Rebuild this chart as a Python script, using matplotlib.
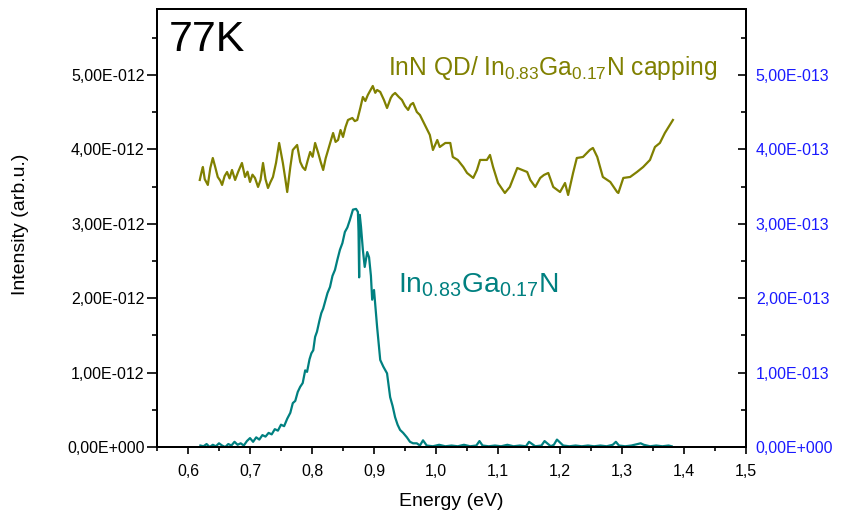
import numpy as np
import matplotlib.pyplot as plt
from matplotlib.ticker import FuncFormatter, MultipleLocator

plt.rcParams['font.family'] = ['Liberation Sans', 'DejaVu Sans']
plt.rcParams['mathtext.fontset'] = 'custom'
plt.rcParams['mathtext.rm'] = 'Liberation Sans'
plt.rcParams['mathtext.it'] = 'Liberation Sans'

# InN QD with In0.83Ga0.17N capping (right axis, units of 1e-13)
cap_energy = [0.619, 0.622, 0.624, 0.627, 0.632, 0.636, 0.640, 0.644, 0.648, 0.652,
              0.655, 0.659, 0.663, 0.667, 0.671, 0.676, 0.681, 0.687, 0.690, 0.692,
              0.696, 0.700, 0.704, 0.708, 0.713, 0.717, 0.721, 0.725, 0.729, 0.733,
              0.737, 0.742, 0.747, 0.753, 0.757, 0.760,
              0.765, 0.769, 0.776, 0.781, 0.785, 0.789, 0.793, 0.797, 0.801, 0.805,
              0.810, 0.814, 0.818, 0.822, 0.826,
              0.834, 0.838, 0.842, 0.846, 0.850, 0.854, 0.858, 0.865, 0.869, 0.873,
              0.878, 0.882, 0.886, 0.890, 0.894, 0.898, 0.902, 0.905,
              0.910, 0.916, 0.921, 0.927, 0.930, 0.934, 0.940, 0.945, 0.950, 0.955, 0.959, 0.963,
              0.969, 0.974, 0.982, 0.990, 0.995, 1.002, 1.006, 1.015, 1.023, 1.027,
              1.035, 1.044, 1.050, 1.060, 1.066, 1.071, 1.082, 1.087, 1.092, 1.100,
              1.111, 1.119, 1.131, 1.139, 1.147, 1.152, 1.160, 1.168, 1.174, 1.181,
              1.189, 1.200, 1.208, 1.213, 1.221, 1.227, 1.237, 1.248, 1.253, 1.260,
              1.269, 1.281, 1.292, 1.294, 1.302, 1.313, 1.324, 1.334, 1.345, 1.353,
              1.361, 1.369, 1.377, 1.382]
cap_intensity = [3.589, 3.700, 3.763, 3.600, 3.522, 3.750, 3.884, 3.760, 3.629, 3.580,
                 3.522, 3.640, 3.696, 3.610, 3.723, 3.589, 3.700, 3.817, 3.700, 3.629,
                 3.700, 3.562, 3.660, 3.616, 3.495, 3.590, 3.817, 3.600, 3.481, 3.560,
                 3.629, 3.820, 4.086, 3.817, 3.600, 3.427,
                 3.763, 3.992, 4.059, 3.831, 3.760, 3.723, 3.850, 3.965, 3.900, 4.086,
                 3.952, 3.830, 3.723, 3.880, 3.992,
                 4.220, 4.100, 4.126, 4.260, 4.167, 4.300, 4.395, 4.422, 4.380, 4.395,
                 4.560, 4.704, 4.650, 4.731, 4.790, 4.852, 4.760, 4.798,
                 4.772, 4.664, 4.556, 4.691, 4.730, 4.758, 4.704, 4.664, 4.583, 4.530, 4.600, 4.624,
                 4.503, 4.462, 4.328, 4.194, 3.992, 4.126, 4.032, 4.086, 4.086, 3.898,
                 3.858, 3.763, 3.683, 3.616, 3.723, 3.858, 3.858, 3.925, 3.763, 3.548,
                 3.414, 3.495, 3.750, 3.723, 3.696, 3.589, 3.495, 3.616, 3.656, 3.683,
                 3.495, 3.427, 3.548, 3.387, 3.683, 3.884, 3.898, 3.992, 4.019, 3.898,
                 3.629, 3.562, 3.427, 3.414, 3.616, 3.629, 3.696, 3.763, 3.858, 4.032,
                 4.086, 4.220, 4.328, 4.395]

# In0.83Ga0.17N layer (left axis, units of 1e-12)
layer_energy = [0.620, 0.625, 0.630, 0.635, 0.640, 0.645, 0.650, 0.655, 0.660, 0.665,
                0.670, 0.675, 0.680, 0.685, 0.690, 0.695, 0.700, 0.705, 0.710, 0.715,
                0.720, 0.725, 0.730, 0.735, 0.740, 0.745, 0.750, 0.755, 0.760, 0.765,
                0.769, 0.773, 0.777, 0.781, 0.785, 0.789, 0.792, 0.796, 0.799, 0.802,
                0.805, 0.808, 0.812, 0.815, 0.818, 0.822, 0.825, 0.829, 0.833, 0.837,
                0.841, 0.845, 0.849, 0.853, 0.857, 0.861, 0.866, 0.871, 0.874, 0.875,
                0.876, 0.877, 0.879, 0.882, 0.885, 0.889, 0.892, 0.895, 0.897, 0.900,
                0.903, 0.905, 0.910, 0.915, 0.921, 0.926, 0.930, 0.934, 0.938, 0.942,
                0.947, 0.953, 0.958, 0.963, 0.969, 0.974, 0.979, 0.985, 0.995, 1.005,
                1.015, 1.025, 1.035, 1.045, 1.055, 1.065, 1.070, 1.075, 1.085, 1.095,
                1.105, 1.115, 1.125, 1.135, 1.145, 1.150, 1.160, 1.170, 1.175, 1.185,
                1.190, 1.195, 1.205, 1.215, 1.225, 1.235, 1.245, 1.255, 1.265, 1.275,
                1.285, 1.290, 1.295, 1.305, 1.315, 1.325, 1.330, 1.335, 1.345, 1.355,
                1.365, 1.375, 1.380]
layer_intensity = [0.02, 0.01, 0.04, 0.00, 0.03, 0.01, 0.05, 0.02, 0.00, 0.04,
                   0.02, 0.07, 0.03, 0.05, 0.02, 0.08, 0.12, 0.07, 0.13, 0.10,
                   0.16, 0.14, 0.19, 0.17, 0.24, 0.22, 0.30, 0.28, 0.38, 0.46,
                   0.59, 0.62, 0.74, 0.81, 0.86, 1.03, 1.01, 1.18, 1.26, 1.30,
                   1.48, 1.55, 1.70, 1.80, 1.86, 1.98, 2.07, 2.15, 2.30, 2.38,
                   2.52, 2.65, 2.74, 2.89, 2.95, 3.05, 3.19, 3.20, 3.16, 2.90,
                   2.28, 3.12, 2.96, 2.65, 2.42, 2.62, 2.55, 2.30, 1.98, 2.11,
                   1.80, 1.61, 1.17, 1.08, 0.99, 0.67, 0.55, 0.40, 0.30, 0.23,
                   0.19, 0.13, 0.07, 0.05, 0.05, 0.02, 0.09, 0.02, 0.01, 0.03,
                   0.01, 0.02, 0.01, 0.03, 0.01, 0.02, 0.08, 0.02, 0.01, 0.02,
                   0.01, 0.03, 0.01, 0.02, 0.01, 0.07, 0.01, 0.02, 0.08, 0.01,
                   0.03, 0.10, 0.02, 0.01, 0.02, 0.01, 0.02, 0.01, 0.02, 0.01,
                   0.03, 0.07, 0.02, 0.01, 0.02, 0.04, 0.05, 0.03, 0.01, 0.02,
                   0.01, 0.02, 0.01]

olive = '#808000'
teal = '#008080'

def origin_sci(v, pos):
    if abs(v) < 1e-30:
        return '0,00E+000'
    exp = int(np.floor(np.log10(abs(v)) + 1e-9))
    mant = v / 10 ** exp
    sign = '-' if exp < 0 else '+'
    return f'{mant:.2f}'.replace('.', ',') + f'E{sign}{abs(exp):03d}'

fig = plt.figure(figsize=(8.44, 5.15), dpi=100)
ax = fig.add_axes([0.186, 0.132, 0.698, 0.8496])
ax2 = ax.twinx()

ax.plot(layer_energy, np.array(layer_intensity) * 1e-12, color=teal, lw=1.6)
ax2.plot(cap_energy, np.array(cap_intensity) * 1e-13, color=olive, lw=1.6)

ax.set_xlim(0.55, 1.5)
ax.set_ylim(0, 5.88e-12)
ax2.set_ylim(0, 5.88e-13)

ax.xaxis.set_major_locator(MultipleLocator(0.1))
ax.xaxis.set_minor_locator(MultipleLocator(0.05))
ax.xaxis.set_major_formatter(FuncFormatter(lambda v, p: f'{v:.1f}'.replace('.', ',')))
ax.yaxis.set_major_locator(MultipleLocator(1e-12))
ax.yaxis.set_minor_locator(MultipleLocator(0.5e-12))
ax.yaxis.set_major_formatter(FuncFormatter(origin_sci))
ax2.yaxis.set_major_locator(MultipleLocator(1e-13))
ax2.yaxis.set_minor_locator(MultipleLocator(0.5e-13))
ax2.yaxis.set_major_formatter(FuncFormatter(origin_sci))

ax.tick_params(axis='x', which='major', direction='out', length=5, width=1.2,
               labelsize=11.5, pad=7)
ax.tick_params(axis='x', which='minor', direction='out', length=3, width=1.2)
ax.tick_params(axis='y', which='major', direction='out', length=7, width=1.2,
               labelsize=11.5, pad=2)
ax.tick_params(axis='y', which='minor', direction='out', length=3.5, width=1.2)
ax2.tick_params(axis='y', which='major', direction='in', length=6, width=1.2,
                labelsize=11.5, labelcolor='#1a1aff', pad=7)
ax2.tick_params(axis='y', which='minor', direction='in', length=3.5, width=1.2)

for a in (ax, ax2):
    for s in a.spines.values():
        s.set_linewidth(1.4)

ax.set_xlabel('Energy (eV)', fontsize=14, labelpad=10)
ax.set_ylabel('Intensity (arb.u.)', fontsize=14)
ax.yaxis.set_label_coords(-0.218, 0.51)

ax.text(0.02, 0.976, '77K', transform=ax.transAxes, fontsize=31, va='top', ha='left')
ax.text(0.392, 0.85, r'InN QD/ In$_{0.83}$Ga$_{0.17}$N capping', transform=ax.transAxes,
        fontsize=17.7, color=olive, va='baseline', ha='left')
ax.text(0.409, 0.354, r'In$_{0.83}$Ga$_{0.17}$N', transform=ax.transAxes,
        fontsize=20.3, color=teal, va='baseline', ha='left')

fig.savefig('out.png', dpi=100)
